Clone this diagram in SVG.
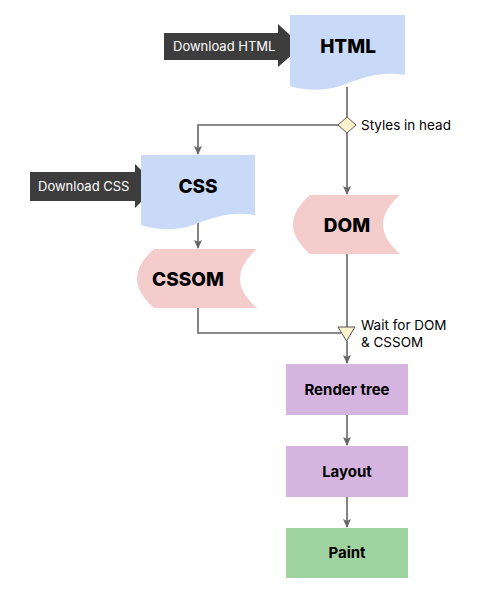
<svg xmlns="http://www.w3.org/2000/svg" width="500" height="594" viewBox="0 0 500 594">
<defs>
<marker id="ah" markerWidth="10" markerHeight="10" refX="8" refY="4" orient="auto" markerUnits="userSpaceOnUse">
<path d="M0,0 L9,4 L0,8 L2,4 Z" fill="#666"/>
</marker>
<style>
.ln{fill:none;stroke:#666;stroke-width:1.6}
.doc{fill:#c9daf8}
.sd{fill:#f4cccc}
.pur{fill:#d5b4e0}
.grn{fill:#9fd3a0}
.dl{fill:#3d3d3d}
.big{font-family:Inter,"Noto Sans",sans-serif;font-weight:800;font-size:19px;fill:#000;text-anchor:middle}
.mid{font-family:Inter,"Noto Sans",sans-serif;font-weight:700;font-size:15px;fill:#000;text-anchor:middle}
.wt{font-family:Inter,"Noto Sans",sans-serif;font-size:13px;fill:#fff}
.lb{font-family:Inter,"Noto Sans",sans-serif;font-size:13.5px;fill:#000}
</style>
</defs>
<g id="connectors">
<path class="ln" d="M347,87 V117"/>
<path class="ln" d="M347,133 V194" marker-end="url(#ah)"/>
<path class="ln" d="M338,125 H198 V154" marker-end="url(#ah)"/>
<path class="ln" d="M198,222 V248" marker-end="url(#ah)"/>
<path class="ln" d="M347,254 V327"/>
<path class="ln" d="M198,308 V333 H341"/>
<path class="ln" d="M347,341 V363" marker-end="url(#ah)"/>
<path class="ln" d="M347,415 V445" marker-end="url(#ah)"/>
<path class="ln" d="M347,497 V527" marker-end="url(#ah)"/>
</g>
<g id="download-html">
<path class="dl" d="M164,33 H278 V24 L302,46 L278,67 V60 H164 Z"/>
<text class="wt" x="173" y="51">Download HTML</text>
</g>
<g id="html">
<path class="doc" d="M290,15 H405 V75 C377,70 358,80 340,86 C325,91 305,91 290,86 Z"/>
<text class="big" x="348" y="53">HTML</text>
</g>
<g id="styles-in-head">
<path d="M347,117 L356,125 L347,133 L338,125 Z" fill="#fff2cc" stroke="#555" stroke-width="1"/>
<text class="lb" x="361" y="130">Styles in head</text>
</g>
<g id="download-css">
<path class="dl" d="M30,172 H135 V164 L157,186 L135,208 V201 H30 Z"/>
<text class="wt" x="38" y="191">Download CSS</text>
</g>
<g id="css">
<path class="doc" d="M141,155 H255 V215 C227,210 208,220 190,226 C175,231 156,230 141,225 Z"/>
<text class="big" x="198" y="193">CSS</text>
</g>
<g id="dom">
<path class="sd" d="M310,195 H400 Q366,224.5 400,254 H310 Q276,224.5 310,195 Z"/>
<text class="big" x="347" y="232">DOM</text>
</g>
<g id="cssom">
<path class="sd" d="M154,249 H257 Q223,278.5 257,308 H154 Q120,278.5 154,249 Z"/>
<text class="big" x="188" y="286">CSSOM</text>
</g>
<g id="wait">
<path d="M338,327 H355 L346.5,341 Z" fill="#fff2cc" stroke="#555" stroke-width="1"/>
<text class="lb" x="361" y="330">Wait for DOM</text>
<text class="lb" x="361" y="347">&amp; CSSOM</text>
</g>
<g id="render-tree">
<rect class="pur" x="286" y="364" width="122" height="51"/>
<text class="mid" x="347" y="395">Render tree</text>
</g>
<g id="layout">
<rect class="pur" x="286" y="446" width="122" height="51"/>
<text class="mid" x="347" y="477">Layout</text>
</g>
<g id="paint">
<rect class="grn" x="286" y="528" width="122" height="50"/>
<text class="mid" x="347" y="558">Paint</text>
</g>
</svg>
